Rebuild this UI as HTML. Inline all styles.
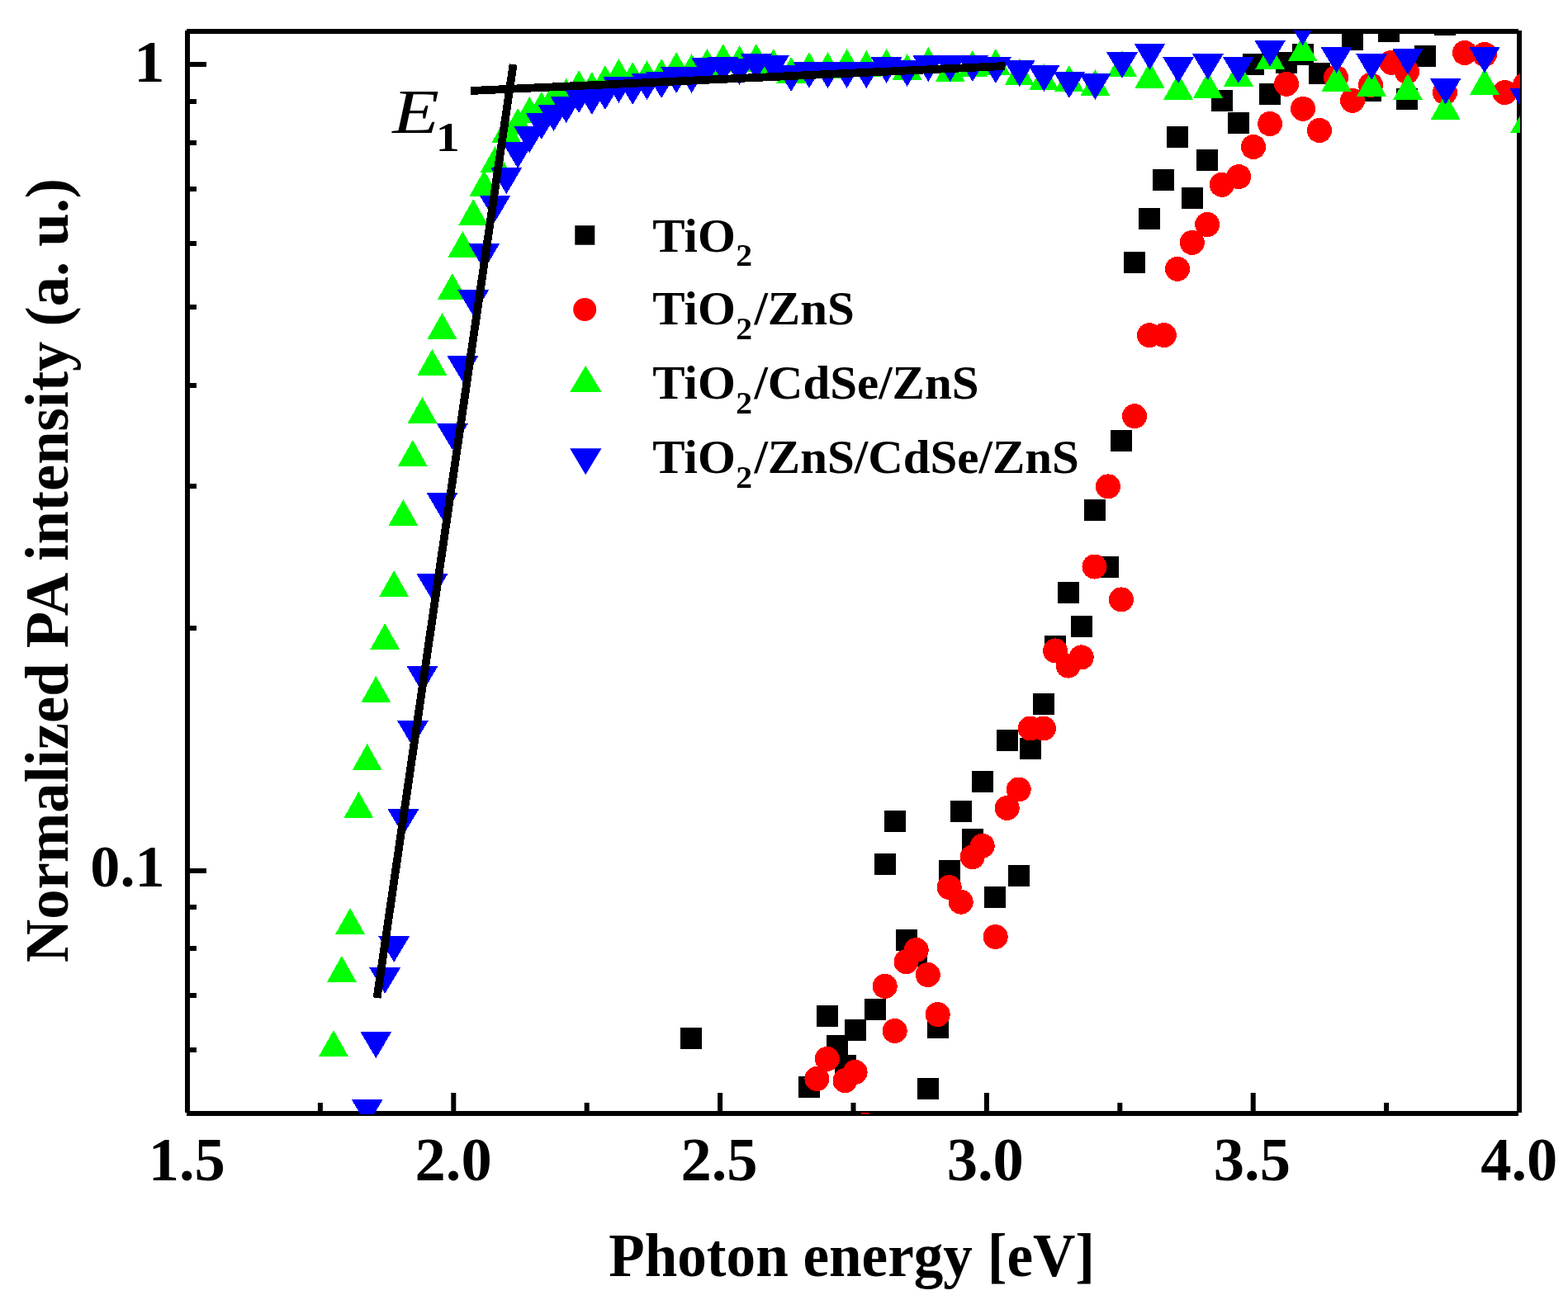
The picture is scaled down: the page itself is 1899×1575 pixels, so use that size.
<!DOCTYPE html>
<html><head><meta charset="utf-8"><title>Normalized PA intensity vs photon energy</title>
<style>html,body{margin:0;padding:0;background:#fff;overflow:hidden;}svg{display:block;}.t{font-family:"Liberation Serif","Times New Roman",serif;font-weight:bold;fill:#000;}.i{font-family:"Liberation Serif","Times New Roman",serif;font-style:italic;font-weight:normal;fill:#000;}.r{font-family:"Liberation Serif","Times New Roman",serif;font-weight:normal;fill:#000;}</style></head><body>
<svg width="1899" height="1575" viewBox="0 0 1899 1575">
<rect x="0" y="0" width="1899" height="1575" fill="#fff"/>
<defs><clipPath id="pc"><rect x="226" y="37" width="1615" height="1313"/></clipPath></defs>
<path d="M226,38H1839M227,37V1348M1840,37V1348M226,1349H1839" stroke="#000" stroke-width="6" fill="none"/>
<path d="M227,78H250M227,123H238M227,173H238M227,229H238M227,295H238M227,372H238M227,467H238M227,589H238M227,761H238M227,1055H250M227,1099H238M227,1149H238M227,1206H238M227,1272H238M549.3,1349V1324M872.1,1349V1324M1194.9,1349V1324M1517.7,1349V1324M387.9,1349V1336M710.7,1349V1336M1033.5,1349V1336M1356.3,1349V1336M1679.1,1349V1336" stroke="#000" stroke-width="6" fill="none"/>
<g clip-path="url(#pc)" shape-rendering="crispEdges">
<path d="M824.4,1244.9h26v26h-26zM966.7,1304.0h26v26h-26zM988.7,1218.1h26v26h-26zM1000.5,1254.2h26v26h-26zM1010.8,1278.3h26v26h-26zM1022.9,1235.0h26v26h-26zM1046.8,1210.0h26v26h-26zM1058.7,1033.9h26v26h-26zM1070.7,981.8h26v26h-26zM1084.7,1125.9h26v26h-26zM1096.5,1145.0h26v26h-26zM1110.9,1306.1h26v26h-26zM1122.7,1231.7h26v26h-26zM1136.8,1042.0h26v26h-26zM1150.7,969.8h26v26h-26zM1164.9,1004.0h26v26h-26zM1176.7,933.6h26v26h-26zM1191.8,1073.8h26v26h-26zM1206.9,883.6h26v26h-26zM1220.9,1048.0h26v26h-26zM1234.9,893.7h26v26h-26zM1250.9,839.6h26v26h-26zM1264.8,769.8h26v26h-26zM1280.9,705.4h26v26h-26zM1297.0,745.5h26v26h-26zM1312.8,605.4h26v26h-26zM1328.9,673.6h26v26h-26zM1345.0,521.4h26v26h-26zM1361.0,305.0h26v26h-26zM1379.0,251.9h26v26h-26zM1396.0,205.0h26v26h-26zM1413.0,153.0h26v26h-26zM1431.0,227.0h26v26h-26zM1449.0,181.0h26v26h-26zM1467.0,109.0h26v26h-26zM1487.0,136.0h26v26h-26zM1505.0,65.0h26v26h-26zM1525.0,101.0h26v26h-26zM1545.0,63.0h26v26h-26zM1565.0,53.0h26v26h-26zM1585.0,76.0h26v26h-26zM1625.0,35.0h26v26h-26zM1647.0,97.0h26v26h-26zM1669.0,24.5h26v26h-26zM1691.0,107.0h26v26h-26zM1713.0,55.0h26v26h-26zM1737.0,17.0h26v26h-26z" fill="#000"/>
<g fill="#f00"><circle cx="989.4" cy="1306.9" r="15"/><circle cx="1001.8" cy="1282.9" r="15"/><circle cx="1023.5" cy="1309.1" r="15"/><circle cx="1035.6" cy="1298.9" r="15"/><circle cx="1071.7" cy="1194.8" r="15"/><circle cx="1083.7" cy="1248.9" r="15"/><circle cx="1097.5" cy="1165.1" r="15"/><circle cx="1109.7" cy="1150.9" r="15"/><circle cx="1123.8" cy="1181.0" r="15"/><circle cx="1135.7" cy="1229.1" r="15"/><circle cx="1149.7" cy="1075.0" r="15"/><circle cx="1163.7" cy="1092.7" r="15"/><circle cx="1177.7" cy="1038.3" r="15"/><circle cx="1189.7" cy="1024.7" r="15"/><circle cx="1205.7" cy="1135.0" r="15"/><circle cx="1219.7" cy="978.9" r="15"/><circle cx="1233.7" cy="956.5" r="15"/><circle cx="1247.7" cy="882.5" r="15"/><circle cx="1263.8" cy="882.5" r="15"/><circle cx="1278.0" cy="788.4" r="15"/><circle cx="1293.7" cy="806.6" r="15"/><circle cx="1309.7" cy="796.4" r="15"/><circle cx="1325.5" cy="686.5" r="15"/><circle cx="1341.9" cy="589.4" r="15"/><circle cx="1357.9" cy="726.4" r="15"/><circle cx="1374.0" cy="504.2" r="15"/><circle cx="1392.0" cy="406.1" r="15"/><circle cx="1409.8" cy="406.1" r="15"/><circle cx="1426.0" cy="325.9" r="15"/><circle cx="1443.8" cy="293.9" r="15"/><circle cx="1462.1" cy="272.0" r="15"/><circle cx="1479.8" cy="223.8" r="15"/><circle cx="1500.1" cy="214.1" r="15"/><circle cx="1518.0" cy="178.0" r="15"/><circle cx="1538.0" cy="150.0" r="15"/><circle cx="1558.0" cy="101.8" r="15"/><circle cx="1578.0" cy="131.8" r="15"/><circle cx="1598.0" cy="158.0" r="15"/><circle cx="1618.0" cy="94.0" r="15"/><circle cx="1638.0" cy="121.9" r="15"/><circle cx="1660.0" cy="103.0" r="15"/><circle cx="1685.0" cy="75.8" r="15"/><circle cx="1704.0" cy="87.0" r="15"/><circle cx="1750.0" cy="112.0" r="15"/><circle cx="1774.0" cy="64.0" r="15"/><circle cx="1798.0" cy="66.0" r="15"/><circle cx="1822.4" cy="112.1" r="15"/><circle cx="1847.0" cy="103.0" r="15"/></g>
<rect x="1043" y="1348" width="10" height="2" fill="#f00"/>
<path d="M404.0,1248.0L422.0,1280.0H386.0ZM413.9,1158.0L431.9,1190.0H395.9ZM424.0,1100.0L442.0,1132.0H406.0ZM434.3,959.0L452.3,991.0H416.3ZM444.7,901.0L462.7,933.0H426.7ZM455.3,819.0L473.3,851.0H437.3ZM466.2,755.0L484.2,787.0H448.2ZM477.2,691.0L495.2,723.0H459.2ZM488.4,605.0L506.4,637.0H470.4ZM499.9,533.0L517.9,565.0H481.9ZM511.5,481.0L529.5,513.0H493.5ZM523.4,423.0L541.4,455.0H505.4ZM535.5,379.0L553.5,411.0H517.5ZM547.8,331.0L565.8,363.0H529.8ZM560.4,280.0L578.4,312.0H542.4ZM573.2,241.0L591.2,273.0H555.2ZM586.3,206.0L604.3,238.0H568.3ZM599.6,177.0L617.6,209.0H581.6ZM613.3,141.0L631.3,173.0H595.3ZM627.1,131.0L645.1,163.0H609.1ZM641.3,117.0L659.3,149.0H623.3ZM655.8,111.0L673.8,143.0H637.8ZM670.6,99.0L688.6,131.0H652.6ZM685.7,95.0L703.7,127.0H667.7ZM701.1,85.0L719.1,117.0H683.1ZM716.8,87.0L734.8,119.0H698.8ZM732.9,79.0L750.9,111.0H714.9ZM749.4,71.0L767.4,103.0H731.4ZM766.2,75.0L784.2,107.0H748.2ZM783.5,73.0L801.5,105.0H765.5ZM801.1,71.0L819.1,103.0H783.1ZM819.1,63.0L837.1,95.0H801.1ZM837.6,65.0L855.6,97.0H819.6ZM856.4,59.0L874.4,91.0H838.4ZM875.8,53.0L893.8,85.0H857.8ZM895.6,55.0L913.6,87.0H877.6ZM915.9,53.0L933.9,85.0H897.9ZM936.8,59.0L954.8,91.0H918.8ZM958.1,69.0L976.1,101.0H940.1ZM980.0,63.0L998.0,95.0H962.0ZM1002.5,63.0L1020.5,95.0H984.5ZM1025.6,59.0L1043.6,91.0H1007.6ZM1049.3,61.0L1067.3,93.0H1031.3ZM1073.6,59.0L1091.6,91.0H1055.6ZM1098.6,65.0L1116.6,97.0H1080.6ZM1124.3,57.0L1142.3,89.0H1106.3ZM1150.7,67.0L1168.7,99.0H1132.7ZM1177.9,61.0L1195.9,93.0H1159.9ZM1205.9,59.0L1223.9,91.0H1187.9ZM1234.7,71.0L1252.7,103.0H1216.7ZM1264.4,77.0L1282.4,109.0H1246.4ZM1294.9,79.0L1312.9,111.0H1276.9ZM1326.4,84.0L1344.4,116.0H1308.4ZM1359.0,61.0L1377.0,93.0H1341.0ZM1392.5,74.6L1410.5,106.6H1374.5ZM1427.1,88.7L1445.1,120.7H1409.1ZM1462.9,86.8L1480.9,118.8H1444.9ZM1499.9,72.7L1517.9,104.7H1481.9ZM1538.1,52.2L1556.1,84.2H1520.1ZM1577.7,42.4L1595.7,74.4H1559.7ZM1618.6,78.6L1636.6,110.6H1600.6ZM1661.1,84.6L1679.1,116.6H1643.1ZM1705.0,89.0L1723.0,121.0H1687.0ZM1750.7,112.9L1768.7,144.9H1732.7ZM1798.0,82.8L1816.0,114.8H1780.0ZM1847.2,129.0L1865.2,161.0H1829.2Z" fill="#0f0"/>
<path d="M425.7,1332.0H463.7L444.7,1364.0ZM436.3,1250.0H474.3L455.3,1282.0ZM447.2,1172.0H485.2L466.2,1204.0ZM458.2,1134.0H496.2L477.2,1166.0ZM469.4,980.0H507.4L488.4,1012.0ZM480.9,873.0H518.9L499.9,905.0ZM492.5,807.0H530.5L511.5,839.0ZM504.4,695.0H542.4L523.4,727.0ZM516.5,597.0H554.5L535.5,629.0ZM528.8,513.0H566.8L547.8,545.0ZM541.4,431.0H579.4L560.4,463.0ZM554.2,351.0H592.2L573.2,383.0ZM567.3,295.0H605.3L586.3,327.0ZM580.6,236.5H618.6L599.6,268.5ZM594.3,203.0H632.3L613.3,235.0ZM608.1,172.0H646.1L627.1,204.0ZM622.3,153.0H660.3L641.3,185.0ZM636.8,137.0H674.8L655.8,169.0ZM651.6,127.0H689.6L670.6,159.0ZM666.7,117.0H704.7L685.7,149.0ZM682.1,105.0H720.1L701.1,137.0ZM697.8,107.0H735.8L716.8,139.0ZM713.9,101.0H751.9L732.9,133.0ZM730.4,93.0H768.4L749.4,125.0ZM747.2,95.0H785.2L766.2,127.0ZM764.5,89.0H802.5L783.5,121.0ZM782.1,87.0H820.1L801.1,119.0ZM800.1,81.0H838.1L819.1,113.0ZM818.6,81.0H856.6L837.6,113.0ZM837.4,70.0H875.4L856.4,102.0ZM856.8,68.5H894.8L875.8,100.5ZM876.6,71.0H914.6L895.6,103.0ZM896.9,65.0H934.9L915.9,97.0ZM917.8,67.0H955.8L936.8,99.0ZM939.1,79.0H977.1L958.1,111.0ZM961.0,75.0H999.0L980.0,107.0ZM983.5,75.0H1021.5L1002.5,107.0ZM1006.6,75.0H1044.6L1025.6,107.0ZM1030.3,75.0H1068.3L1049.3,107.0ZM1054.6,69.0H1092.6L1073.6,101.0ZM1079.6,73.0H1117.6L1098.6,105.0ZM1105.3,67.0H1143.3L1124.3,99.0ZM1131.7,67.0H1169.7L1150.7,99.0ZM1158.9,67.0H1196.9L1177.9,99.0ZM1186.9,69.0H1224.9L1205.9,101.0ZM1215.7,73.0H1253.7L1234.7,105.0ZM1245.4,79.0H1283.4L1264.4,111.0ZM1275.9,87.0H1313.9L1294.9,119.0ZM1307.4,89.0H1345.4L1326.4,121.0ZM1340.0,63.0H1378.0L1359.0,95.0ZM1373.5,52.7H1411.5L1392.5,84.7ZM1408.1,68.9H1446.1L1427.1,100.9ZM1443.9,64.9H1481.9L1462.9,96.9ZM1480.9,69.0H1518.9L1499.9,101.0ZM1519.1,48.7H1557.1L1538.1,80.7ZM1558.7,23.2H1596.7L1577.7,55.2ZM1599.6,57.0H1637.6L1618.6,89.0ZM1642.1,65.0H1680.1L1661.1,97.0ZM1686.0,58.5H1724.0L1705.0,90.5ZM1731.7,94.8H1769.7L1750.7,126.8ZM1779.0,56.6H1817.0L1798.0,88.6ZM1828.2,106.6H1866.2L1847.2,138.6Z" fill="#00f"/>
</g>
<g stroke="#000" stroke-width="9.8" fill="none" shape-rendering="crispEdges">
<path d="M570,110L1217,80"/>
<path d="M456.6,1209L621.6,78"/>
</g>
<text class="t" font-size="100" transform="translate(179.65,1430.31) scale(0.745,0.737)">1.5</text>
<text class="t" font-size="100" transform="translate(502.59,1430.31) scale(0.745,0.737)">2.0</text>
<text class="t" font-size="100" transform="translate(824.44,1430.31) scale(0.745,0.737)">2.5</text>
<text class="t" font-size="100" transform="translate(1146.64,1430.31) scale(0.745,0.737)">3.0</text>
<text class="t" font-size="100" transform="translate(1469.84,1430.31) scale(0.745,0.737)">3.5</text>
<text class="t" font-size="100" transform="translate(1793.15,1430.31) scale(0.745,0.737)">4.0</text>
<text class="t" font-size="100" transform="translate(162.23,98.90) scale(0.7459,0.7273)">1</text>
<text class="t" font-size="100" transform="translate(109.31,1073.60) scale(0.7216,0.7242)">0.1</text>
<text class="t" font-size="100" transform="translate(737.28,1545.60) scale(0.7115,0.7292)">Photon energy [eV]</text>
<text class="t" font-size="100" transform="translate(82.1,1166.25) rotate(-90) scale(0.7259,0.7385)">Normalized PA intensity (a. u.)</text>
<rect x="696.3" y="273.2" width="24" height="23.5" fill="#000"/>
<circle cx="708.2" cy="375" r="14" fill="#f00"/>
<path d="M709.2,443L728.5,475H690.2Z" fill="#0f0"/>
<path d="M690.2,543.2H728.5L709.2,575.2Z" fill="#00f"/>
<text class="t" font-size="100" transform="translate(790.32,304.5) scale(0.59,0.5738)">TiO<tspan x="171.2" dy="31.2" font-size="67.1">2</tspan></text>
<text class="t" font-size="100" transform="translate(790.32,392.8) scale(0.59,0.5738)">TiO<tspan x="171.2" dy="31.2" font-size="67.1">2</tspan><tspan x="208.6" dy="-31.2">/ZnS</tspan></text>
<text class="t" font-size="100" transform="translate(790.32,483.2) scale(0.59,0.5738)">TiO<tspan x="171.2" dy="31.2" font-size="67.1">2</tspan><tspan x="208.6" dy="-31.2">/CdSe/ZnS</tspan></text>
<text class="t" font-size="100" transform="translate(790.32,572.6) scale(0.59,0.5738)">TiO<tspan x="171.2" dy="31.2" font-size="67.1">2</tspan><tspan x="208.6" dy="-31.2">/ZnS/CdSe/ZnS</tspan></text>
<text class="i" font-size="100" transform="translate(475.33,160.90) scale(0.9283,0.7692)">E</text>
<text class="t" font-size="100" transform="translate(527.75,182.90) scale(0.5811,0.5121)">1</text>
</svg></body></html>
